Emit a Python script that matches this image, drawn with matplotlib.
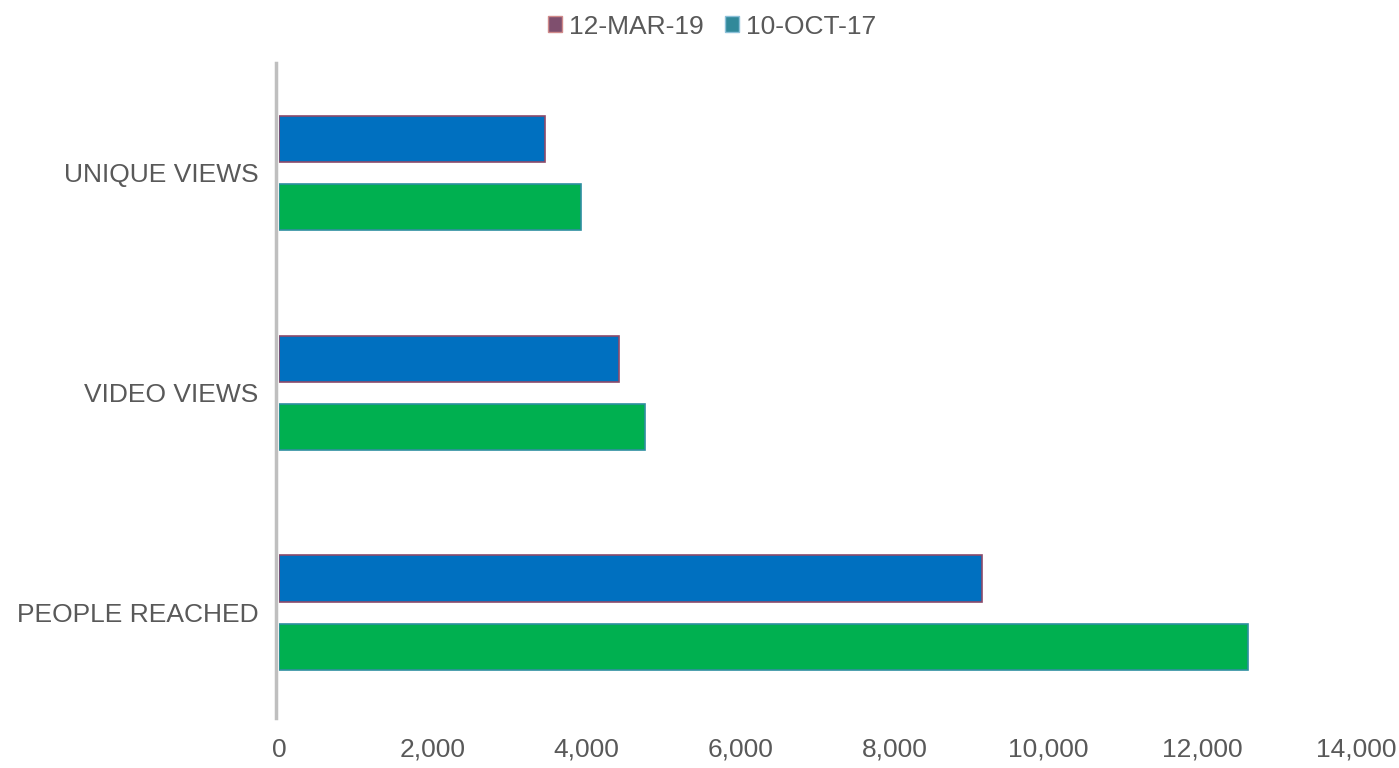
import numpy as np
import matplotlib
matplotlib.use("Agg")
import matplotlib.pyplot as plt
from matplotlib.patches import Patch
from matplotlib.ticker import FuncFormatter, MultipleLocator

# Данные
categories = ["PEOPLE REACHED", "VIDEO VIEWS", "UNIQUE VIEWS"]
mar_19 = [9140, 4420, 3460]
oct_17 = [12600, 4760, 3930]

plt.rcParams['font.family'] = ['Liberation Sans', 'DejaVu Sans']
text_color = '#595959'

fig = plt.figure(figsize=(13.99, 7.68), dpi=100)
ax = fig.add_axes([0.1994, 0.065, 0.7699, 0.853])

y = np.arange(len(categories))
h = 0.21
off = 0.155

ax.barh(y + off, mar_19, height=h, color='#0070C0', edgecolor='#8B4A6B', linewidth=1.2)
ax.barh(y - off, oct_17, height=h, color='#00B050', edgecolor='#2E8FA0', linewidth=1.2)

ax.set_xlim(0, 14000)
ax.set_ylim(-0.48, 2.5)
ax.xaxis.set_major_locator(MultipleLocator(2000))
ax.xaxis.set_major_formatter(FuncFormatter(lambda v, p: f"{int(v):,}"))
ax.set_yticks(y)
ax.set_yticklabels(categories)

for s in ['top', 'right', 'bottom']:
    ax.spines[s].set_visible(False)
ax.spines['left'].set_color('#BFBFBF')
ax.spines['left'].set_linewidth(2.5)
ax.spines['left'].set_position(('outward', 2))

ax.tick_params(axis='both', length=0, labelsize=19, colors=text_color)
ax.tick_params(axis='y', pad=13)
ax.tick_params(axis='x', pad=14)

handles = [Patch(facecolor='#7F4F6E', edgecolor='#D08A8A', label='12-MAR-19'),
           Patch(facecolor='#31899A', edgecolor='#8CC0D8', label='10-OCT-17')]
leg = fig.legend(handles=handles, loc='upper center', bbox_to_anchor=(0.509, 1.012), ncol=2,
                 frameon=False, fontsize=19, handlelength=0.55, handleheight=0.55,
                 handletextpad=0.25, columnspacing=0.8)
for t in leg.get_texts():
    t.set_color(text_color)

fig.savefig("out.png", dpi=100)
